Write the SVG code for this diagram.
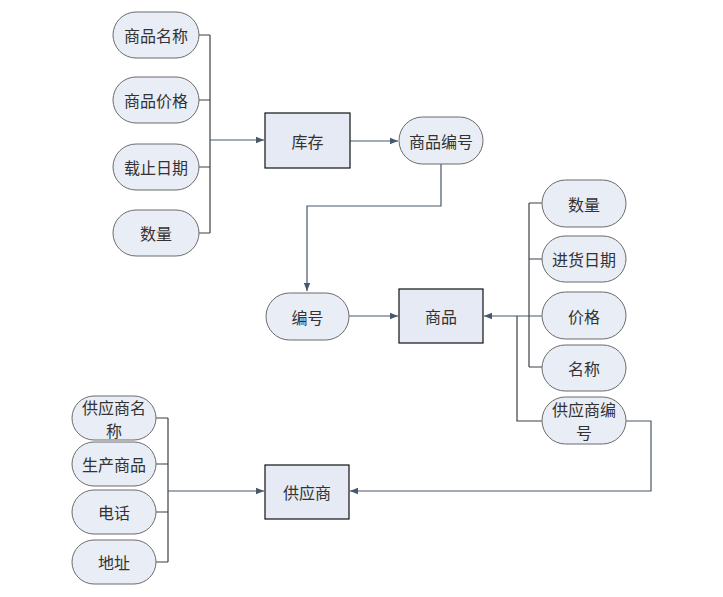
<svg xmlns="http://www.w3.org/2000/svg" width="723" height="597" viewBox="0 0 723 597">
<style>
.ov{fill:#e9edf6;stroke:#6b6b6b;stroke-width:1}
.bx{fill:#e6eaf4;stroke:#111;stroke-width:1.2}
.t{font-family:"Noto Sans CJK SC","Liberation Sans",sans-serif;font-size:16px;fill:#333;text-anchor:middle;dominant-baseline:central}
.c{fill:none;stroke:#46586b;stroke-width:1.2}
.b{fill:none;stroke:#3a3f46;stroke-width:1.2}
</style>
<defs>
<marker id="ar" viewBox="0 0 10 10" refX="10" refY="5" markerWidth="8" markerHeight="8" markerUnits="userSpaceOnUse" orient="auto">
<path d="M0,1 L10,5 L0,9 Z" fill="#46586b"/>
</marker>
</defs>
<rect width="723" height="597" fill="#fff"/>
<g id="connectors">
<path class="b" d="M199,35 H210 M199,100 H210 M199,167 H210 M199,233 H210 M210,35 V233"/>
<path class="c" d="M210,140 H264" marker-end="url(#ar)"/>
<path class="c" d="M350,141 H398" marker-end="url(#ar)"/>
<path class="c" d="M441,164 V206 H307 V291" marker-end="url(#ar)"/>
<path class="c" d="M349,316 H398" marker-end="url(#ar)"/>
<path class="b" d="M529,203 H542 M529,259 H542 M529,367 H542 M529,203 V367"/>
<path class="c" d="M542,316 H484" marker-end="url(#ar)"/>
<path class="b" d="M517,316 V421 H542"/>
<path class="c" d="M626,421 H651 V491 H350" marker-end="url(#ar)"/>
<path class="b" d="M156,418 H168 M156,464 H168 M156,512 H168 M156,562 H168 M168,418 V562"/>
<path class="c" d="M168,491 H264" marker-end="url(#ar)"/>
</g>
<g id="n_spmc"><rect class="ov" x="113" y="12" width="86" height="46" rx="23"/><text class="t" x="156" y="35">商品名称</text></g>
<g id="n_spjg"><rect class="ov" x="113" y="77" width="86" height="46" rx="23"/><text class="t" x="156" y="100">商品价格</text></g>
<g id="n_zzrq"><rect class="ov" x="113" y="144" width="86" height="46" rx="23"/><text class="t" x="156" y="167">载止日期</text></g>
<g id="n_sl1"><rect class="ov" x="113" y="210" width="86" height="46" rx="23"/><text class="t" x="156" y="233">数量</text></g>
<g id="n_kc"><rect class="bx" x="265" y="113" width="85" height="55"/><text class="t" x="307.5" y="141">库存</text></g>
<g id="n_spbh"><rect class="ov" x="399" y="117" width="84" height="47" rx="23.5"/><text class="t" x="441" y="140.5">商品编号</text></g>
<g id="n_bh"><rect class="ov" x="266" y="293" width="83" height="47" rx="23.5"/><text class="t" x="307.5" y="316.5">编号</text></g>
<g id="n_sp"><rect class="bx" x="399" y="289" width="84" height="54"/><text class="t" x="441" y="316">商品</text></g>
<g id="n_sl2"><rect class="ov" x="542" y="180" width="84" height="47" rx="23.5"/><text class="t" x="584" y="203.5">数量</text></g>
<g id="n_jhrq"><rect class="ov" x="542" y="236" width="84" height="46" rx="23"/><text class="t" x="584" y="259">进货日期</text></g>
<g id="n_jg"><rect class="ov" x="542" y="292" width="84" height="47" rx="23.5"/><text class="t" x="584" y="315.5">价格</text></g>
<g id="n_mc"><rect class="ov" x="542" y="345" width="84" height="46" rx="23"/><text class="t" x="584" y="368">名称</text></g>
<g id="n_gysbh"><rect class="ov" x="542" y="397" width="84" height="47" rx="23.5"/><text class="t" x="584" y="409">供应商编</text><text class="t" x="584" y="432">号</text></g>
<g id="n_gysmc"><rect class="ov" x="72" y="396" width="84" height="44" rx="22"/><text class="t" x="114" y="407">供应商名</text><text class="t" x="114" y="430">称</text></g>
<g id="n_scsp"><rect class="ov" x="72" y="442" width="84" height="44" rx="22"/><text class="t" x="114" y="464">生产商品</text></g>
<g id="n_dh"><rect class="ov" x="72" y="490" width="84" height="44" rx="22"/><text class="t" x="114" y="512">电话</text></g>
<g id="n_dz"><rect class="ov" x="72" y="540" width="84" height="44" rx="22"/><text class="t" x="114" y="562">地址</text></g>
<g id="n_gys"><rect class="bx" x="265" y="465" width="84" height="54"/><text class="t" x="307" y="492">供应商</text></g>
</svg>
